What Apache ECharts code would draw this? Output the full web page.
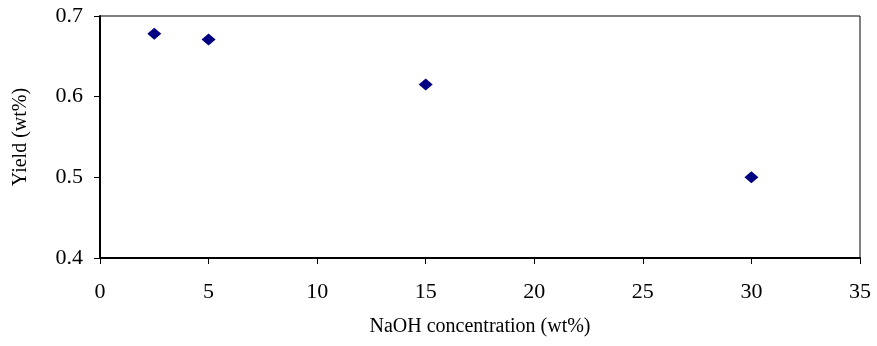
<!DOCTYPE html>
<html>
<head>
<meta charset="utf-8">
<script src="https://cdn.jsdelivr.net/npm/echarts@6/dist/echarts.min.js"></script>
<style>
  html, body { margin: 0; padding: 0; background: #fff; }
  #chart { width: 877px; height: 346px; }
</style>
</head>
<body>
<div id="chart"></div>
<script>
// NaOH concentration (wt%) vs yield (wt%)
const naoh = [2.5, 5, 15, 30];
const yieldVals = [0.678, 0.671, 0.615, 0.5];

const font = 'Liberation Serif';

let myChart = echarts.init(document.getElementById('chart'));
let option = {
    animation: false,
    grid: {
        left: 100,
        right: 17,
        top: 16,
        bottom: 88,
        show: true,
        borderColor: '#000',
        borderWidth: 1
    },
    xAxis: {
        type: 'value',
        min: 0,
        max: 35,
        interval: 5,
        name: 'NaOH concentration (wt%)',
        nameLocation: 'middle',
        nameGap: 59,
        nameTextStyle: { fontFamily: font, fontSize: 20, color: '#000' },
        axisLine: { show: true, lineStyle: { color: '#000', width: 2 } },
        axisTick: { show: true, length: 6, lineStyle: { color: '#000' } },
        axisLabel: { fontFamily: font, fontSize: 22, color: '#000', margin: 23 },
        splitLine: { show: false }
    },
    yAxis: {
        type: 'value',
        min: 0.4,
        max: 0.7,
        interval: 0.1,
        name: 'Yield (wt%)',
        nameLocation: 'middle',
        nameGap: 69,
        nameTextStyle: { fontFamily: font, fontSize: 20, color: '#000' },
        axisLine: { show: true, lineStyle: { color: '#000', width: 2 } },
        axisTick: { show: true, length: 6, lineStyle: { color: '#000' } },
        axisLabel: {
            fontFamily: font, fontSize: 22, color: '#000', margin: 17,
            formatter: v => v.toFixed(1)
        },
        splitLine: { show: false }
    },
    series: [{
        type: 'scatter',
        data: naoh.map((x, i) => [x, yieldVals[i]]),
        symbol: 'diamond',
        symbolSize: [14, 12],
        itemStyle: { color: '#000080', opacity: 1 }
    }]
};
myChart.setOption(option);
</script>
</body>
</html>
